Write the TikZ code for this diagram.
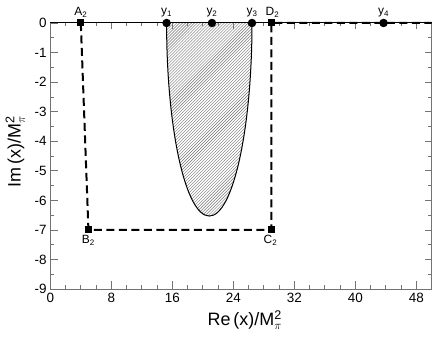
\documentclass[tikz,border=0pt]{standalone}
\usepackage{amsmath}
\usepackage{fontspec}
\setmainfont{Liberation Sans}
\usetikzlibrary{patterns}
\definecolor{axgray}{gray}{0.45}
\newcommand{\msq}{M$^{\text{2}}_{\pi}$}
\tikzset{
  dot/.style={circle, fill=black, inner sep=0pt, minimum size=8.5bp},
  sqr/.style={rectangle, fill=black, inner sep=0pt, minimum size=7bp},
  contour/.style={line width=2bp, dash pattern=on 8bp off 4.5bp},
  ptlabel/.style={font=\fontsize{12}{14}\selectfont, inner sep=1.5bp},
  ticklabel/.style={font=\fontsize{13.5}{16}\selectfont, inner sep=0pt},
  axlabel/.style={font=\fontsize{18}{20}\selectfont, inner sep=0pt}
}

\begin{document}
\begin{tikzpicture}[x=7.625bp, y=29.56bp]
  \useasboundingbox (-6.597,0.778) rectangle (50.58,-10.623);
  % Hatched region between y1 and y3
  \fill[pattern=north east lines, pattern color=black!55]
    (15.25,0) arc[start angle=180, end angle=360, x radius=5.6, y radius=6.53] -- cycle;
  \draw[line width=1bp]
    (15.25,0) arc[start angle=180, end angle=360, x radius=5.6, y radius=6.53];
  % Frame and ticks
  \draw[axgray, line width=1bp] (0,0) rectangle (50,-9);
  \foreach \x in {0,2,...,50} {
    \draw[axgray, line width=0.8bp] (\x,-9) -- ++(0,4bp);
    \draw[axgray, line width=0.8bp] (\x,0) -- ++(0,-3.5bp);
  }
  \foreach \x in {0,8,...,48} {
    \draw[axgray, line width=0.8bp] (\x,-9) -- ++(0,8bp);
    \draw[axgray, line width=0.8bp] (\x,0) -- ++(0,-6.5bp);
    \node[ticklabel, anchor=north] (xt\x) at (\x,-9.14) {\x};
  }
  \foreach \y in {0,-0.5,...,-9} {
    \draw[axgray, line width=0.8bp] (0,\y) -- ++(4bp,0);
    \draw[axgray, line width=0.8bp] (50,\y) -- ++(-4bp,0);
  }
  \foreach \y in {0,-1,...,-9} {
    \draw[axgray, line width=0.8bp] (0,\y) -- ++(7.5bp,0);
    \draw[axgray, line width=0.8bp] (50,\y) -- ++(-6.5bp,0);
    \node[ticklabel, anchor=east] (yt\y) at (-0.45,\y) {\y};
  }
  % Real axis
  \draw[line width=1bp] (0,0) -- (50,0);
  % Contour A2 B2 C2 D2
  \node[sqr, label={[ptlabel]above:A$_{\text{2}}$}] (A2) at (4,0) {};
  \node[sqr, label={[ptlabel]below:B$_{\text{2}}$}] (B2) at (5,-7) {};
  \node[sqr, label={[ptlabel, xshift=-1bp]below:C$_{\text{2}}$}] (C2) at (29,-7) {};
  \node[sqr, label={[ptlabel, xshift=1bp]above:D$_{\text{2}}$}] (D2) at (29,0) {};
  \coordinate (Dend) at (50,0);
  \draw[contour] (A2.center) -- (B2.center) -- (C2.center) -- (D2.center) -- (Dend);
  % Points y1..y4
  \node[dot, label={[ptlabel]above:y$_{\text{1}}$}] (y1) at (15.25,0) {};
  \node[dot, label={[ptlabel]above:y$_{\text{2}}$}] (y2) at (21.2,0) {};
  \node[dot, label={[ptlabel]above:y$_{\text{3}}$}] (y3) at (26.45,0) {};
  \node[dot, label={[ptlabel]above:y$_{\text{4}}$}] (y4) at (43.7,0) {};
  % Axis labels
  \node[axlabel] (xlab) at (25.5,-10.05) {Re\,(x)/\msq};
  \node[axlabel, rotate=90] (ylab) at (-4.6,-4.35) {Im\,(x)/\msq};
\end{tikzpicture}
\end{document}
